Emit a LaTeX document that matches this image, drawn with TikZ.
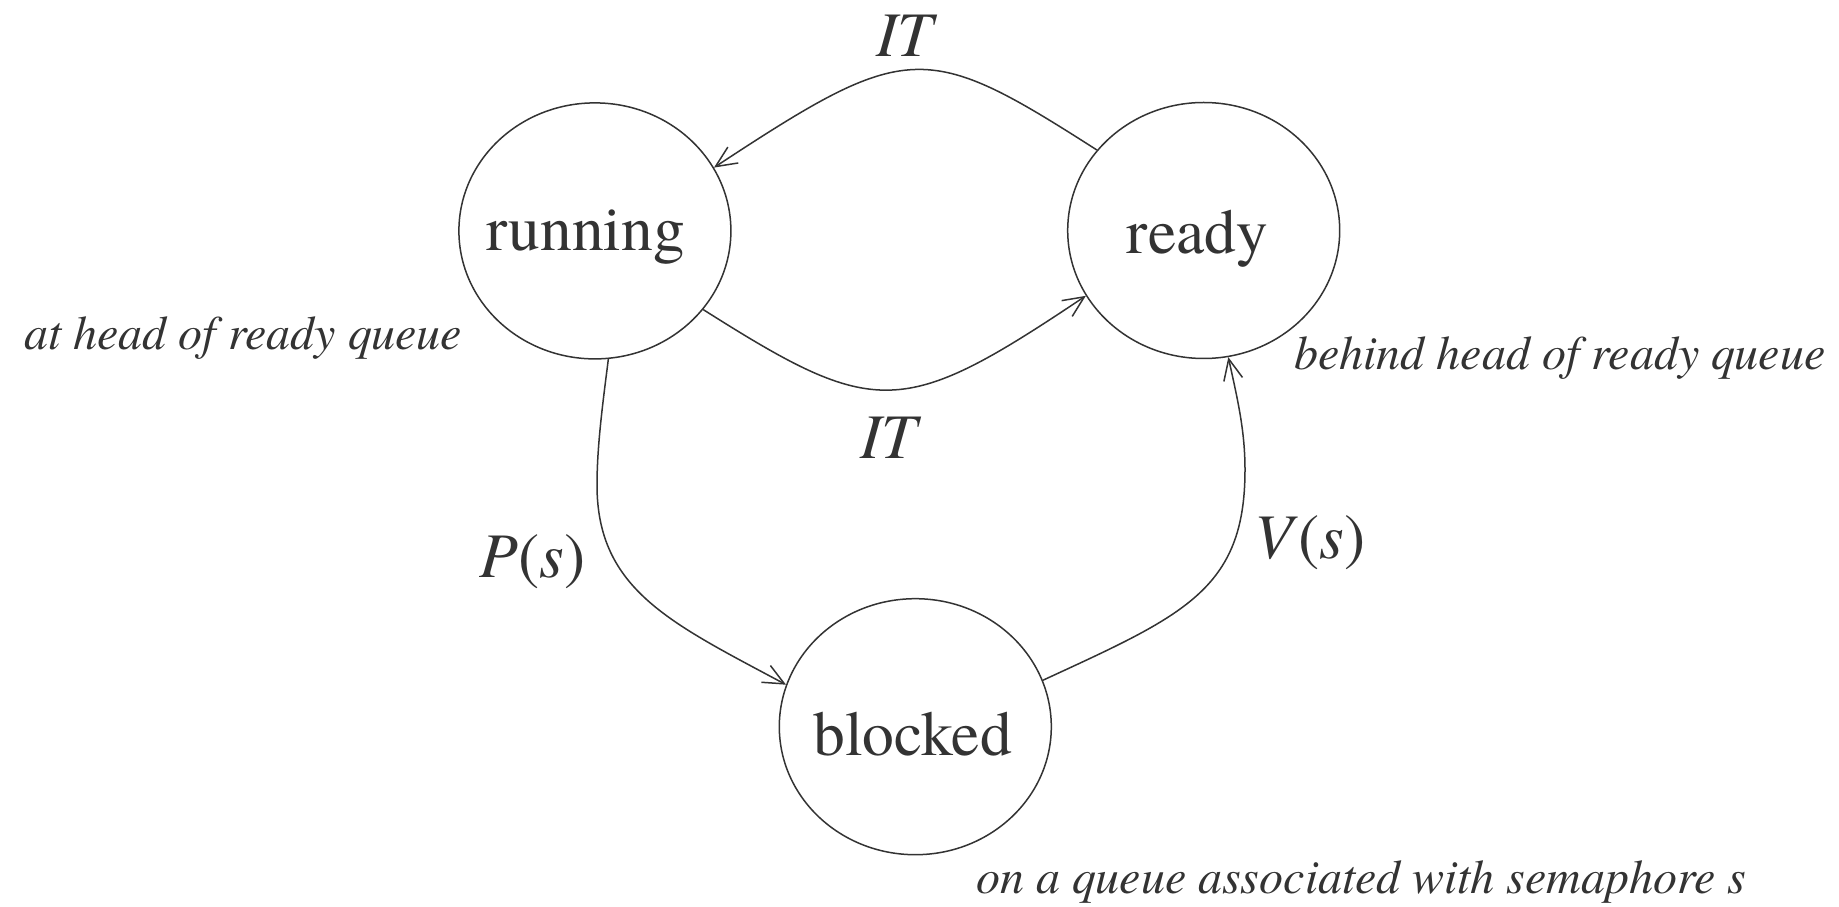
\documentclass[tikz,border=0pt]{standalone}
\usepackage{fontspec}
\setmainfont{texgyretermes}[Extension=.otf, UprightFont=*-regular, ItalicFont=*-italic, BoldFont=*-bold, BoldItalicFont=*-bolditalic]
\usetikzlibrary{shapes.geometric,arrows.meta}
\definecolor{ink}{RGB}{51,51,51}
\begin{document}
\begin{tikzpicture}[x=1pt,y=1pt,
  state/.style={ellipse, draw=ink, line width=1.5pt, minimum width=272pt, minimum height=256pt, inner sep=0pt},
  statetext/.style={text=ink, inner sep=0pt, anchor=base, font=\rmfamily\fontsize{63.5}{70}\selectfont},
  edgelabel/.style={text=ink, inner sep=0pt, anchor=base, font=\rmfamily\fontsize{63.5}{70}\selectfont\itshape},
  note/.style={text=ink, inner sep=0pt, anchor=base west, font=\rmfamily\fontsize{48}{54}\selectfont\itshape},
  conn/.style={draw=ink, line width=1.5pt, -{Straight Barb[length=21pt,width=19pt,line width=1.5pt]}}]
\useasboundingbox (0,0) rectangle (1839,906);
\fill[white] (0,0) rectangle (1839,906);

\node[state] (running) at (594.9,675.1) {};
\node[state] (ready) at (1203.7,675.5) {};
\node[state] (blocked) at (915.3,179.3) {};

\node[statetext] (runningtext) at (585.7,655.3) {running};
\node[statetext] (readytext) at (1197.5,652.7) {ready};
\node[statetext] (blockedtext) at (912.5,150.3) {blocked};

\draw[conn] (ready.143) .. controls (925,866) and (908,866) .. (running.28);
\draw[conn] (running.-36) .. controls (876,487) and (902,487) .. (ready.209);
\draw[conn] (running.-84) .. controls (603.2,506) and (597,461) .. (597,421)
  .. controls (597,316) and (671.4,282.8) .. (blocked.162);
\draw[conn] (blocked.20) .. controls (1183,290.4) and (1245,316) .. (1245,436)
  .. controls (1245,476) and (1237.5,506.6) .. (ready.-79);

\node[edgelabel] (ittop) at (905,849.3) {IT};
\node[edgelabel] (itbot) at (889,447) {IT};
\node[edgelabel] (plabel) at (532.5,329) {P\textup{(}s\textup{)}};
\node[edgelabel] (vlabel) at (1310,347.3) {V\textup{(}s\textup{)}};

\node[note] (headnote) at (24,556) {at head of ready queue};
\node[note] (behindnote) at (1294,536) {behind head of ready queue};
\node[note] (queuenote) at (976,13) {on a queue associated with semaphore s};
\end{tikzpicture}
\end{document}
